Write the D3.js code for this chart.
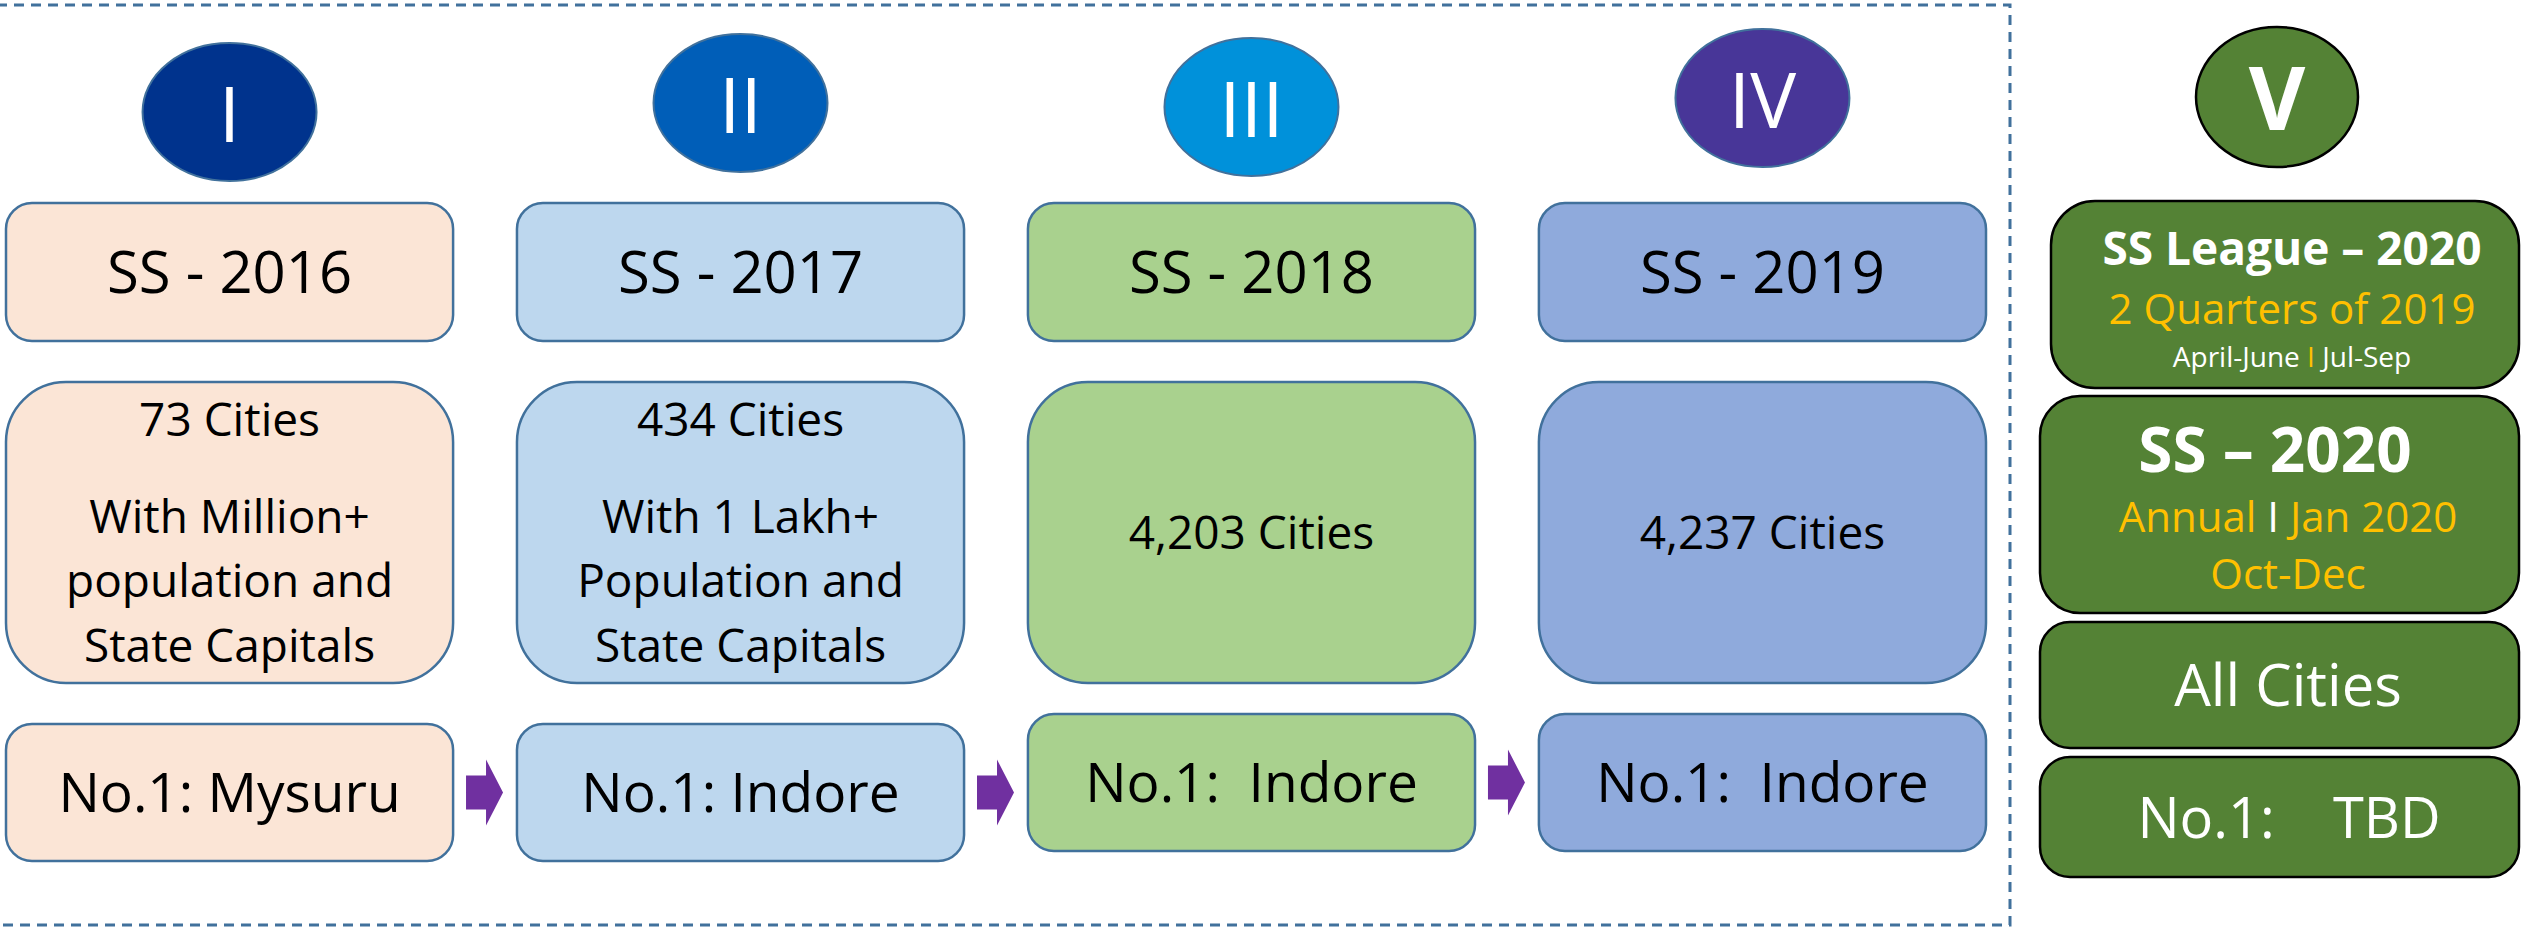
<!DOCTYPE html>
<html>
<head>
<meta charset="utf-8">
<script src="https://cdn.jsdelivr.net/npm/d3@7"></script>
<style>
  html, body { margin: 0; padding: 0; background: #fff; }
  svg { display: block; font-family: "Open Sans", "Noto Sans", sans-serif; }
  text { white-space: pre; }
</style>
</head>
<body>
<div id="chart"></div>
<script>
// ---- content ----
const stages = ["I", "II", "III", "IV"];
const surveys = ["SS - 2016", "SS - 2017", "SS - 2018", "SS - 2019"];
const coverage = [
    ["73 Cities", "", "With Million+", "population and", "State Capitals"],
    ["434 Cities", "", "With 1 Lakh+", "Population and", "State Capitals"],
    ["4,203 Cities"],
    ["4,237 Cities"]
];
const winners = ["No.1: Mysuru", "No.1: Indore", "No.1:  Indore", "No.1:  Indore"];

const nextStage = "V";
const leagueLines = ["SS League – 2020", "2 Quarters of 2019", "April-June I Jul-Sep"];
const annualLines = ["SS – 2020", "Annual I Jan 2020", "Oct-Dec"];
const nextCoverage = "All Cities";
const nextWinner = "No.1:    TBD";

// ---- styling ----
const ovalColors = ["#00338d", "#005eb8", "#0091da", "#483698"];
const boxColors = ["#fbe5d6", "#bdd7ee", "#a9d18e", "#8faadc"];
const colors = {
    edge: '#41719c',
    green: '#548235',
    accent: '#ffc000',
    arrow: '#7030a0',
    text: '#000000',
}

const width = 2522, height = 929;
const CAP = 0.714; // cap height of Open Sans, in em

const svg = d3.select("#chart").append("svg")
    .attr("width", width)
    .attr("height", height);

// dashed frame round the four past surveys
svg.append("rect")
    .attr("x", -3).attr("y", 5)
    .attr("width", 2013).attr("height", 920)
    .attr("fill", "none")
    .attr("stroke", colors.edge)
    .attr("stroke-width", 3)
    .attr("stroke-dasharray", "10,7");

// columns of the past surveys
const x = d3.scaleBand()
    .domain(stages)
    .range([6, 1986])
    .paddingInner(0.125);
const bw = x.bandwidth();

// row bands: oval, title, coverage, winner (dy = small per-column shift in the original)
const rows = {
    oval: {cy: 105, rx: 87, ry: 69, dy: [7, -2, 2, -7]},
    title: {y: 203, h: 138, r: 26},
    cover: {y: 382, h: 301, r: 60},
    winner: {y: 719, h: 137, r: 26, dy: [5, 5, -5, -5]}
};

// draws a centred text line with its cap middle at cy
function capText(g, cx, cy, str, size, opts = {}) {
    return g.append("text")
        .attr("x", cx)
        .attr("y", cy + size * CAP / 2)
        .attr("text-anchor", "middle")
        .attr("font-size", size)
        .attr("font-weight", opts.weight || 400)
        .attr("fill", opts.fill || colors.text)
        .text(str);
}

// line with an "I" separator in another colour
function splitText(g, cx, baseline, str, size, fill, sepFill) {
    const parts = str.split(" I ");
    const t = g.append("text")
        .attr("x", cx).attr("y", baseline)
        .attr("text-anchor", "middle")
        .attr("font-size", size)
        .attr("fill", fill);
    t.append("tspan").text(parts[0] + " ");
    t.append("tspan").attr("fill", sepFill).text("I");
    t.append("tspan").text(" " + parts[1]);
    return t;
}

const winnerY = i => rows.winner.y + rows.winner.dy[i];

const cols = svg.selectAll("g.col")
    .data(stages)
    .enter().append("g")
    .attr("class", "col");

cols.each(function(stage, i) {
    const g = d3.select(this);
    const cx = x(stage) + bw / 2;
    const ocy = rows.oval.cy + rows.oval.dy[i];

    g.append("ellipse")
        .attr("cx", cx).attr("cy", ocy)
        .attr("rx", rows.oval.rx).attr("ry", rows.oval.ry)
        .attr("fill", ovalColors[i])
        .attr("stroke", colors.edge)
        .attr("stroke-width", 2);
    capText(g, cx, ocy + 3, stage, 77, {fill: "#fff"});

    // title, coverage and winner boxes
    [["title", surveys[i]], ["cover", null], ["winner", winners[i]]].forEach(([key, label]) => {
        const r = rows[key];
        const y0 = key === "winner" ? winnerY(i) : r.y;
        g.append("rect")
            .attr("x", x(stage)).attr("y", y0)
            .attr("width", bw).attr("height", r.h)
            .attr("rx", r.r).attr("ry", r.r)
            .attr("fill", boxColors[i])
            .attr("stroke", colors.edge)
            .attr("stroke-width", 2.5);
        if (label) {
            capText(g, cx, y0 + r.h / 2, label, key === "title" ? 58 : 55);
        }
    });

    // coverage text, blank lines take half a line
    const lines = coverage[i];
    const size = 46, lh = 64.5;
    const gaps = lines.slice(1).map(l => l === "" ? lh / 2 : lh);
    const span = size * CAP + d3.sum(gaps);
    let base = rows.cover.y + rows.cover.h / 2 - span / 2 + size * CAP;
    lines.forEach((l, k) => {
        if (k > 0) base += gaps[k - 1];
        if (l === "") return;
        g.append("text")
            .attr("x", cx).attr("y", base)
            .attr("text-anchor", "middle")
            .attr("font-size", size)
            .attr("fill", colors.text)
            .text(l);
    });
});

// arrows between the winner boxes, level with the box on their left
const arrow = d3.line();
d3.pairs(stages).forEach(([a, b], i) => {
    const gc = (x(a) + bw + x(b)) / 2;
    const ay = winnerY(i) + rows.winner.h / 2;
    svg.append("path")
        .attr("d", arrow([
            [gc - 19, ay - 17], [gc + 1, ay - 17], [gc + 1, ay - 33],
            [gc + 18, ay], [gc + 1, ay + 33], [gc + 1, ay + 17],
            [gc - 19, ay + 17]
        ]) + "Z")
        .attr("fill", colors.arrow);
});

// ---- column V : the coming survey ----
const gv = svg.append("g");
const vx = [2040, 2519];

gv.append("ellipse")
    .attr("cx", 2277).attr("cy", 97)
    .attr("rx", 81).attr("ry", 70)
    .attr("fill", colors.green)
    .attr("stroke", "#000")
    .attr("stroke-width", 2.5);
capText(gv, 2277, 99, nextStage, 87, {fill: "#fff", weight: 700});

const vBoxes = [
    {x0: 2051, y: 201, h: 187, r: 44},
    {x0: vx[0], y: 396, h: 217, r: 40},
    {x0: vx[0], y: 622, h: 126, r: 30},
    {x0: vx[0], y: 757, h: 120, r: 30}
];
vBoxes.forEach(b => {
    gv.append("rect")
        .attr("x", b.x0).attr("y", b.y)
        .attr("width", vx[1] - b.x0).attr("height", b.h)
        .attr("rx", b.r).attr("ry", b.r)
        .attr("fill", colors.green)
        .attr("stroke", "#000")
        .attr("stroke-width", 2.5);
});

// league box
gv.append("text")
    .attr("x", 2292).attr("y", 265)
    .attr("text-anchor", "middle")
    .attr("font-size", 46).attr("font-weight", 700)
    .attr("fill", "#fff")
    .text(leagueLines[0]);
gv.append("text")
    .attr("x", 2292).attr("y", 324)
    .attr("text-anchor", "middle")
    .attr("font-size", 42)
    .attr("fill", colors.accent)
    .text(leagueLines[1]);
splitText(gv, 2292, 367, leagueLines[2], 28, "#fff", colors.accent);

// annual box
gv.append("text")
    .attr("x", 2275).attr("y", 472)
    .attr("text-anchor", "middle")
    .attr("font-size", 62).attr("font-weight", 700)
    .attr("fill", "#fff")
    .text(annualLines[0]);
splitText(gv, 2288, 532, annualLines[1], 42, colors.accent, "#fff");
gv.append("text")
    .attr("x", 2288).attr("y", 589)
    .attr("text-anchor", "middle")
    .attr("font-size", 42)
    .attr("fill", colors.accent)
    .text(annualLines[2]);

capText(gv, 2288, 685, nextCoverage, 58, {fill: "#fff"});
capText(gv, 2289, 818, nextWinner, 56, {fill: "#fff"});
</script>
</body>
</html>
